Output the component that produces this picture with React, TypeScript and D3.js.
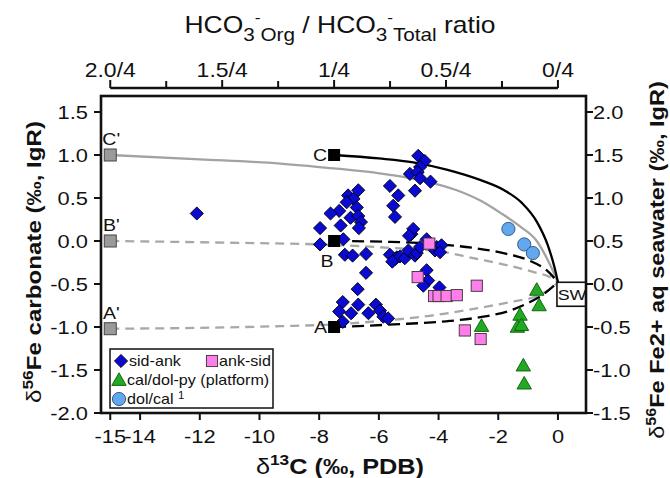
import React from 'react';
import * as d3 from 'd3';

// ---------- data ----------
const sidAnk: [number, number][] = [
  [-12.1, 0.32],
  [-6.69, 0.59], [-7.03, 0.53], [-6.85, 0.49], [-7.08, 0.45], [-6.74, 0.39], [-7.33, 0.35],
  [-7.62, 0.32], [-6.95, 0.27], [-6.69, 0.29], [-6.6, 0.22], [-7.28, 0.18], [-6.67, 0.15], [-7.97, 0.15],
  [-5.63, 0.64], [-5.35, 0.53], [-5.52, 0.41], [-5.46, 0.28],
  [-4.68, 0.99], [-4.46, 0.93], [-4.62, 0.86], [-4.96, 0.78], [-4.7, 0.8], [-4.62, 0.73], [-4.27, 0.69], [-4.79, 0.585],
  [-7.97, -0.04], [-7.19, 0.02], [-7.14, -0.16], [-6.88, -0.17], [-6.43, -0.15],
  [-5.63, -0.16], [-5.46, -0.21], [-5.4, -0.19], [-5.29, -0.18], [-5.13, -0.2], [-5.01, -0.11], [-4.79, -0.17],
  [-4.73, -0.14], [-4.62, -0.07], [-4.91, 0.08], [-4.85, 0.14], [-4.99, 0.06], [-4.4, 0.02], [-4.12, -0.11],
  [-4.06, -0.07], [-3.9, -0.05], [-3.95, -0.13], [-5.55, -0.24],
  [-6.43, -0.37], [-6.71, -0.56], [-4.4, -0.34], [-4.35, -0.46], [-4.51, -0.52], [-3.97, -0.54],
  [-7.21, -0.71], [-6.69, -0.74], [-7.33, -0.82], [-6.93, -0.84], [-6.35, -0.84], [-6.1, -0.74],
  [-5.96, -0.81], [-5.85, -0.88], [-5.69, -0.9], [-7.21, -0.94],
];
const ankSid: [number, number][] = [
  [-4.31, -0.03], [-4.7, -0.42], [-4.15, -0.64], [-4.0, -0.64], [-3.73, -0.64], [-3.39, -0.63],
  [-2.72, -0.52], [-3.12, -1.04], [-2.59, -1.14],
];
const calDolPy: [number, number][] = [
  [-0.71, -0.58], [-0.63, -0.76], [-1.27, -0.87], [-1.36, -1.01], [-1.22, -0.99], [-2.56, -1.0],
  [-1.16, -1.46], [-1.13, -1.67],
];
const dolCal: [number, number][] = [[-1.66, 0.14], [-1.13, -0.04], [-0.84, -0.14]];

// mixing curves
const curveC: [number, number][] = [
  [-7.5, 1.0], [-6.0, 0.96], [-4.85, 0.915], [-3.73, 0.83], [-2.61, 0.71], [-1.8, 0.59], [-1.2, 0.44],
  [-0.7, 0.22], [-0.35, -0.04], [-0.12, -0.3], [0, -0.48],
];
const curveCp: [number, number][] = [
  [-15, 1.0], [-12, 0.95], [-9.3, 0.9], [-8, 0.86], [-5.63, 0.77], [-4.51, 0.7], [-3.39, 0.59],
  [-2.6, 0.47], [-1.94, 0.33], [-1.27, 0.17], [-0.71, 0.0], [-0.3, -0.25], [0, -0.48],
];
const curveB: [number, number][] = [
  [-7.5, 0.0], [-5.6, -0.01], [-3.95, -0.04], [-2.84, -0.08], [-1.72, -0.15], [-0.94, -0.23],
  [-0.38, -0.34], [0, -0.48],
];
const curveBp: [number, number][] = [
  [-15, 0.0], [-11, -0.02], [-8, -0.04], [-5.6, -0.08], [-3.95, -0.12], [-2.84, -0.2], [-1.72, -0.28],
  [-0.83, -0.36], [-0.27, -0.42], [0, -0.48],
];
const curveA: [number, number][] = [
  [-7.5, -1.0], [-5.5, -0.97], [-3.62, -0.93], [-2.5, -0.88], [-1.61, -0.81], [-0.94, -0.71],
  [-0.49, -0.62], [0, -0.48],
];
const curveAp: [number, number][] = [
  [-15, -1.02], [-12, -1.01], [-9.3, -0.99], [-7.5, -0.97], [-5.96, -0.93], [-4.3, -0.87], [-3.0, -0.8],
  [-1.6, -0.71], [-0.71, -0.64], [-0.27, -0.56], [0, -0.48],
];

const endLabelsPrime = ["C'", "B'", "A'"];
const endPrimeX = [-15, -15, -15];
const endPrimeY = [1.0, 0.0, -1.02];
const endLabels = ['C', 'B', 'A'];
const endX = [-7.5, -7.5, -7.5];
const endY = [1.0, 0.0, -1.0];
const seawater: [number, number] = [0, -0.48];
const seawaterLabel = 'SW';

const bottomTicks = [-15, -14, -12, -10, -8, -6, -4, -2, 0];
const leftTicks = [-2, -1.5, -1, -0.5, 0, 0.5, 1, 1.5];
const rightTicks = [-1.5, -1, -0.5, 0, 0.5, 1, 1.5, 2];
const topMajor = [2.0, 1.5, 1.0, 0.5, 0];
const topLabels = ['2.0/4', '1.5/4', '1/4', '0.5/4', '0/4'];
const topMinor = [1.75, 1.25, 0.75, 0.25];
const legendLabels = ['sid-ank', 'ank-sid', 'cal/dol-py (platform)', 'dol/cal'];

// ---------- layout ----------
const W = 670, H = 478;
const L = 101, R = 586, T = 96, B = 413;
const FONT = "'Liberation Sans', Arial, Helvetica, sans-serif";
const SX = 1.15;

const x = d3.scaleLinear().domain([-15.31, 0.94]).range([L, R]);
const yL = d3.scaleLinear().domain([-2.0, 1.686]).range([B, T]);
const yR = d3.scaleLinear().domain([-1.5, 2.186]).range([B, T]);
const xTop = d3.scaleLinear().domain([2.0, 0]).range([x(-15), x(0)]);

const line = d3.line<[number, number]>().x(d => x(d[0])).y(d => yL(d[1])).curve(d3.curveMonotoneX);

const diamond = d3.symbol(d3.symbolDiamond2, 110)()!;
const tri = 'M0,-8.2L7.2,4.4L-7.2,4.4Z';

const Txt = ({ px, py, rot = 0, size = 19, weight = 'normal', anchor = 'start', children, sx = SX }: any) => (
  <text
    transform={`translate(${px},${py}) rotate(${rot}) scale(${sx},1)`}
    fontSize={size}
    fontWeight={weight}
    textAnchor={anchor}
    fontFamily={FONT}
    fill="#111"
  >
    {children}
  </text>
);

const Diamond = ({ cx, cy }: any) => (
  <path d={diamond} transform={`translate(${cx},${cy})`} fill="#0a0ad2" stroke="#000" strokeWidth={0.9} />
);
const PinkSq = ({ cx, cy }: any) => (
  <rect x={cx - 5.6} y={cy - 5.6} width={11.2} height={11.2} fill="#ff7eea" stroke="#333" strokeWidth={0.9} />
);
const Tri = ({ cx, cy }: any) => (
  <path d={tri} transform={`translate(${cx},${cy})`} fill="#22aa22" stroke="#0b5a0b" strokeWidth={0.9} />
);
const Circ = ({ cx, cy }: any) => (
  <circle cx={cx} cy={cy} r={6.6} fill="#62a8ee" stroke="#2b4f7a" strokeWidth={0.9} />
);

export default function App() {
  const swx = x(seawater[0]);
  const swy = yL(seawater[1]);
  return (
    <svg width={W} height={H} style={{ position: 'absolute', left: 0, top: 0, background: '#fff' }}>
      <rect x={0} y={0} width={W} height={H} fill="#fff" />

      {/* top title */}
      <text
        transform={`translate(340,33) scale(${SX},1)`}
        textAnchor="middle"
        fontFamily={FONT}
        fontSize={23}
        fill="#111"
      >
        <tspan>HCO</tspan>
        <tspan dy={8} fontSize={18}>3</tspan>
        <tspan dy={-18} fontSize={15}>-</tspan>
        <tspan dy={18} fontSize={18}>Org</tspan>
        <tspan dy={-8}> / HCO</tspan>
        <tspan dy={8} fontSize={18}>3</tspan>
        <tspan dy={-18} fontSize={15}>-</tspan>
        <tspan dy={18} fontSize={18}>Total</tspan>
        <tspan dy={-8}> ratio</tspan>
      </text>

      {/* top axis */}
      <line x1={xTop(2.0)} x2={xTop(0)} y1={88} y2={88} stroke="#111" strokeWidth={2.6} />
      {topMajor.map((v, i) => (
        <g key={'tm' + i}>
          <line x1={xTop(v)} x2={xTop(v)} y1={80} y2={88} stroke="#111" strokeWidth={2} />
          <Txt px={xTop(v)} py={77} size={20} anchor="middle">{topLabels[i]}</Txt>
        </g>
      ))}
      {topMinor.map((v, i) => (
        <line key={'tn' + i} x1={xTop(v)} x2={xTop(v)} y1={81} y2={88} stroke="#111" strokeWidth={2} />
      ))}

      {/* mixing curves */}
      <path d={line(curveCp)!} fill="none" stroke="#a3a3a3" strokeWidth={2.3} />
      <path d={line(curveBp)!} fill="none" stroke="#a8a8a8" strokeWidth={2.3} strokeDasharray="9 6" />
      <path d={line(curveAp)!} fill="none" stroke="#a8a8a8" strokeWidth={2.3} strokeDasharray="9 6" />
      <path d={line(curveC)!} fill="none" stroke="#000" strokeWidth={2.3} />
      <path d={line(curveB)!} fill="none" stroke="#000" strokeWidth={2.3} strokeDasharray="12 6" />
      <path d={line(curveA)!} fill="none" stroke="#000" strokeWidth={2.3} strokeDasharray="12 6" />

      {/* data */}
      {sidAnk.map((d, i) => <Diamond key={'d' + i} cx={x(d[0])} cy={yL(d[1])} />)}
      {ankSid.map((d, i) => <PinkSq key={'p' + i} cx={x(d[0])} cy={yL(d[1])} />)}
      {calDolPy.map((d, i) => <Tri key={'t' + i} cx={x(d[0])} cy={yL(d[1])} />)}
      {dolCal.map((d, i) => <Circ key={'c' + i} cx={x(d[0])} cy={yL(d[1])} />)}

      {/* end members */}
      {endLabelsPrime.map((lab, i) => (
        <g key={'ep' + i}>
          <rect x={x(endPrimeX[i]) - 6} y={yL(endPrimeY[i]) - 6} width={12} height={12} fill="#9a9a9a" stroke="#444" strokeWidth={1} />
          <Txt px={x(endPrimeX[i]) + 1} py={yL(endPrimeY[i]) - 10} size={17} anchor="middle">{lab}</Txt>
        </g>
      ))}
      {endLabels.map((lab, i) => {
        const cx = x(endX[i]);
        const cy = yL(endY[i]);
        const lp = lab === 'B' ? { px: cx - 7, py: cy + 26, a: 'middle' } : { px: cx - 7, py: cy + 6.5, a: 'end' };
        return (
          <g key={'e' + i}>
            <rect x={cx - 6} y={cy - 6} width={12} height={12} fill="#000" />
            <Txt px={lp.px} py={lp.py} size={17} anchor={lp.a}>{lab}</Txt>
          </g>
        );
      })}

      {/* seawater box */}
      <rect x={swx - 1} y={swy} width={R - swx + 1} height={24} fill="#fff" stroke="#111" strokeWidth={1.6} />
      <Txt px={(swx + R) / 2} py={swy + 17.5} size={15.5} anchor="middle">{seawaterLabel}</Txt>

      {/* legend */}
      <rect x={110} y={349} width={163} height={59} fill="#fff" stroke="#111" strokeWidth={1.5} />
      <Diamond cx={121} cy={361} />
      <Txt px={129} py={366} size={14}>{legendLabels[0]}</Txt>
      <PinkSq cx={212} cy={361} />
      <Txt px={219} py={366} size={14}>{legendLabels[1]}</Txt>
      <Tri cx={119} cy={381} />
      <Txt px={127} py={385} size={14}>{legendLabels[2]}</Txt>
      <Circ cx={119} cy={399} />
      <text transform={`translate(127,404) scale(${SX},1)`} fontSize={14} fontFamily={FONT} fill="#111">
        {legendLabels[3]}
        <tspan dx={4} dy={-5} fontSize={10}>1</tspan>
      </text>

      {/* frame */}
      <rect x={L} y={T} width={R - L} height={B - T} fill="none" stroke="#111" strokeWidth={2.6} />

      {/* left axis */}
      {leftTicks.map((v, i) => (
        <g key={'l' + i}>
          <line x1={L - 7} x2={L} y1={yL(v)} y2={yL(v)} stroke="#111" strokeWidth={2} />
          <Txt px={88} py={yL(v) + 7} anchor="end">{v.toFixed(1)}</Txt>
        </g>
      ))}
      {/* right axis */}
      {rightTicks.map((v, i) => (
        <g key={'r' + i}>
          <line x1={R} x2={R + 7} y1={yR(v)} y2={yR(v)} stroke="#111" strokeWidth={2} />
          <Txt px={593} py={yR(v) + 7}>{v.toFixed(1)}</Txt>
        </g>
      ))}
      {/* bottom axis */}
      {bottomTicks.map((v, i) => (
        <g key={'b' + i}>
          <line x1={x(v)} x2={x(v)} y1={B} y2={B + 7} stroke="#111" strokeWidth={2} />
          <Txt px={x(v)} py={443} anchor="middle">{String(v)}</Txt>
        </g>
      ))}

      {/* axis titles */}
      <text transform={`translate(340,474) scale(${SX},1)`} textAnchor="middle" fontFamily={FONT} fontSize={22} fontWeight="bold" fill="#111">
        <tspan fontWeight="normal">δ</tspan>
        <tspan dy={-9} fontSize={15}>13</tspan>
        <tspan dy={9}>C (‰, PDB)</tspan>
      </text>
      <text transform={`translate(41,262) rotate(-90) scale(${SX},1)`} textAnchor="middle" fontFamily={FONT} fontSize={21} fontWeight="bold" fill="#111">
        <tspan fontWeight="normal">δ</tspan>
        <tspan dy={-8} fontSize={15}>56</tspan>
        <tspan dy={8}>Fe carbonate (‰, IgR)</tspan>
      </text>
      <text transform={`translate(664,260) rotate(-90) scale(${SX},1)`} textAnchor="middle" fontFamily={FONT} fontSize={20.5} fontWeight="bold" fill="#111">
        <tspan fontWeight="normal">δ</tspan>
        <tspan dy={-8} fontSize={14}>56</tspan>
        <tspan dy={8}>Fe Fe2+ aq seawater (‰, IgR)</tspan>
      </text>
    </svg>
  );
}
